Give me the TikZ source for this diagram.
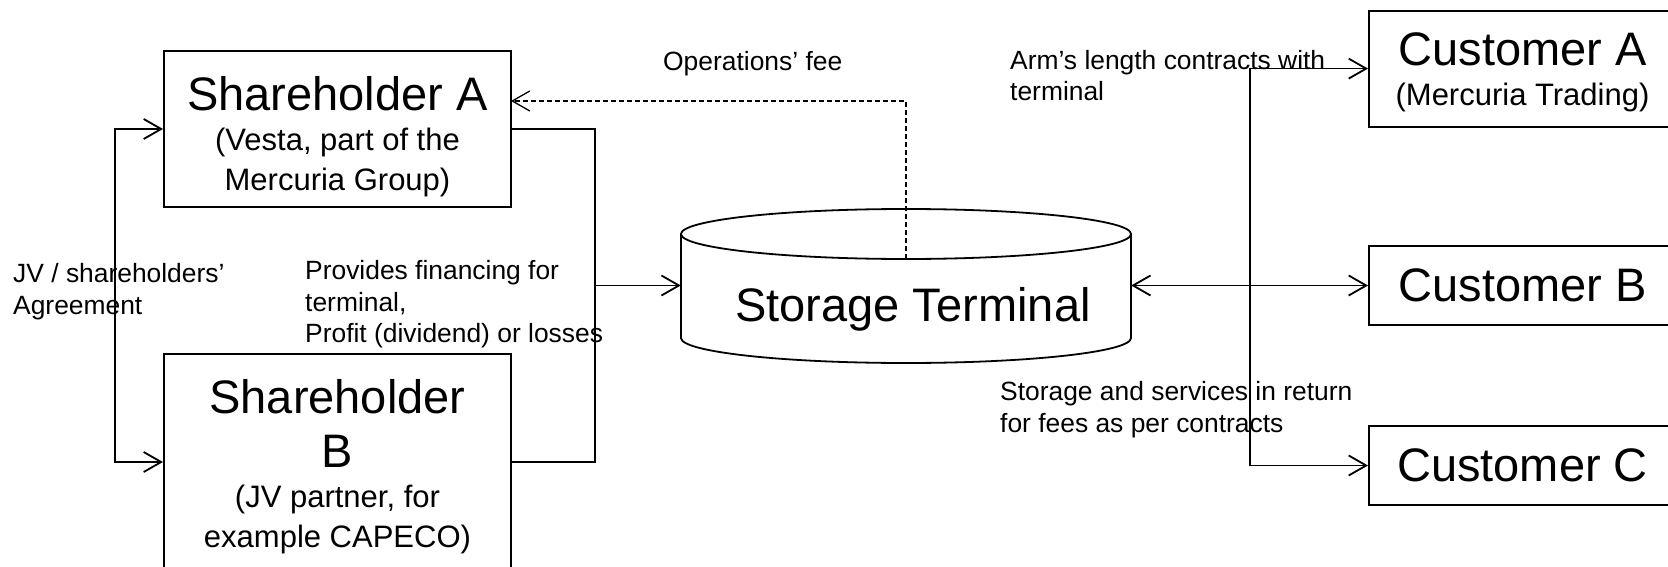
\documentclass[tikz,border=0pt]{standalone}
\usepackage{fontspec}
\setmainfont{Liberation Sans}
\usetikzlibrary{arrows.meta}
\newcommand{\fBig}{\fontsize{47}{53}\selectfont}
\newcommand{\fSub}{\fontsize{31}{40}\selectfont}
\newcommand{\fLbl}{\fontsize{26.4}{31.7}\selectfont}
\begin{document}
\begin{tikzpicture}[x=1pt,y=-1pt,
  boxnode/.style={draw, line width=2pt, inner sep=0pt, align=center, font=\fSub},
  conn/.style={line width=1.8pt, -{Straight Barb[length=17.5pt,width=20pt]}},
  dconn/.style={line width=1.8pt, {Straight Barb[length=17.5pt,width=20pt]}-{Straight Barb[length=17.5pt,width=20pt]}},
  plain/.style={line width=1.8pt},
  dashconn/.style={line width=1.3pt, dash pattern=on 5pt off 3pt, -{Straight Barb[length=17.5pt,width=20pt]}},
  lbl/.style={anchor=north west, inner sep=0pt, align=left, font=\fLbl},
  cyl/.style={line width=1.8pt}]
\useasboundingbox (0,0) rectangle (1668,567);

% Shareholders
\node[boxnode, minimum width=347pt, minimum height=156pt] (shA) at (337.5,129)
  {\fBig\rule{0pt}{49.5pt}Shareholder A\\(Vesta, part of the\\Mercuria Group)};
\node[boxnode, minimum width=347pt, minimum height=216pt] (shB) at (337.5,462)
  {\fBig\rule{0pt}{44.3pt}Shareholder\\[14pt]\fBig B\\(JV partner, for\\example CAPECO)};

% Storage terminal (cylinder)
\node[minimum width=450pt, minimum height=154pt, inner sep=0pt] (st) at (906,285.5) {};
\draw[cyl] (906,234) ellipse [x radius=225pt, y radius=25pt];
\draw[cyl] (681,234) -- (681,338) arc[start angle=180, end angle=360, x radius=225pt, y radius=25pt] -- (1131,234);
\node[font=\fBig, anchor=base, inner sep=0pt] (stl) at (913,321) {Storage Terminal};

% Customers
\node[boxnode, minimum width=307pt, minimum height=116pt] (cA) at (1522.5,68.6)
  {\fBig\rule{0pt}{41pt}Customer A\\(Mercuria Trading)};
\node[boxnode, minimum width=307pt, minimum height=79pt, font=\fBig] (cB) at (1522.5,285.5) {Customer B};
\node[boxnode, minimum width=307pt, minimum height=79pt, font=\fBig] (cC) at (1522.5,465.5) {Customer C};

% Connectors
\coordinate (lb) at (115,300);
\draw[dconn] (shA.west) -| (lb) |- (shB.west);

\coordinate (rb) at (595,285.5);
\draw[plain] (shA.east) -| (rb) |- (shB.east);
\draw[conn] (rb) -- (st.west);

\coordinate (opsrc) at (906,259);
\coordinate (opend) at (511,101);
\draw[dashconn] (opsrc) |- (opend);

\draw[dconn] (st.east) -- (cB.west);
\coordinate (vm) at (1250,285.5);
\draw[conn] (vm) |- (cA.west);
\draw[conn] (vm) |- (cC.west);

% Labels
\node[lbl] (opl) at (663,50.7) {Operations’ fee};
\node[lbl] (arml) at (1010,49.7) {Arm’s length contracts with\\terminal};
\node[lbl] (jvl) at (13,263.5) {JV / shareholders’\\Agreement};
\node[lbl] (finl) at (305,260) {Provides financing for\\terminal,\\Profit (dividend) or losses};
\node[lbl] (stsl) at (1000,381) {Storage and services in return\\for fees as per contracts};
\end{tikzpicture}
\end{document}
